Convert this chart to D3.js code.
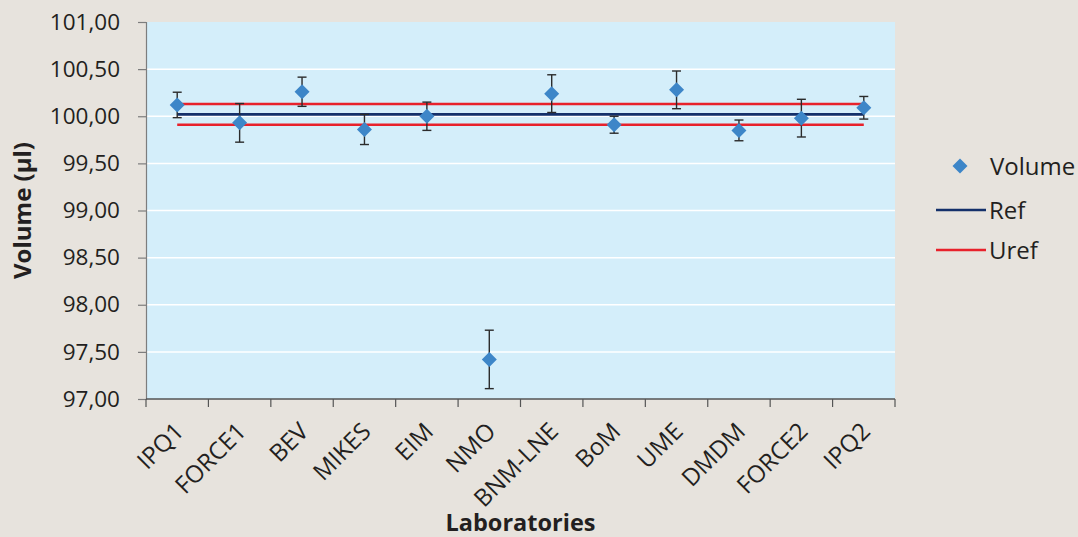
<!DOCTYPE html>
<html>
<head>
<meta charset="utf-8">
<script src="https://cdn.jsdelivr.net/npm/d3@7"></script>
<style>
  html, body { margin: 0; padding: 0; background: #e7e3dd; }
  svg { display: block; }
  text { font-family: "Open Sans", "Noto Sans", sans-serif; fill: #231f20; }
</style>
</head>
<body>
<svg id="chart" width="1078" height="537"></svg>
<script>
// Laboratories taking part in the comparison
const labs = ["IPQ1", "FORCE1", "BEV", "MIKES", "EIM", "NMO", "BNM-LNE", "BoM", "UME", "DMDM", "FORCE2", "IPQ2"];
// Measured volume (µl) for each laboratory
const volume = [100.12, 99.93, 100.26, 99.86, 100.00, 97.42, 100.24, 99.91, 100.28, 99.85, 99.98, 100.09];
// Expanded uncertainty of each measurement (µl)
const uncertainty = [0.135, 0.205, 0.155, 0.16, 0.15, 0.31, 0.20, 0.09, 0.20, 0.11, 0.20, 0.12];
// Reference value and its uncertainty band
const refValue = 100.02;
const refUpper = 100.13;
const refLower = 99.91;
// Y axis ticks
const yTicks = [97.0, 97.5, 98.0, 98.5, 99.0, 99.5, 100.0, 100.5, 101.0];
const yDomain = [97, 101];

const svg = d3.select("#chart");
const plot = { left: 146, right: 895, top: 22, bottom: 399 };

const x = d3.scaleBand().domain(labs).range([plot.left, plot.right]).padding(0);
const y = d3.scaleLinear().domain(yDomain).range([plot.bottom, plot.top]);
const cx = d => x(d) + x.bandwidth() / 2;

const locale = d3.formatLocale({ decimal: ",", thousands: ".", grouping: [3], currency: ["", ""] });
const fmt = locale.format(".2f");

// Plot background
svg.append("rect")
  .attr("x", plot.left).attr("y", plot.top)
  .attr("width", plot.right - plot.left).attr("height", plot.bottom - plot.top)
  .attr("fill", "#d4eefa");

// Horizontal gridlines
svg.append("g").selectAll("line").data(yTicks.slice(1, -1)).join("line")
  .attr("x1", plot.left).attr("x2", plot.right)
  .attr("y1", d => y(d)).attr("y2", d => y(d))
  .attr("stroke", "#ffffff").attr("stroke-width", 1.5);

// Y axis
const yAxis = svg.append("g")
  .attr("transform", `translate(${plot.left},0)`)
  .call(d3.axisLeft(y).tickValues(yTicks).tickFormat(fmt).tickSize(8).tickPadding(18));
yAxis.select(".domain").attr("stroke", "#7d7d7d").attr("stroke-width", 1.2);
yAxis.selectAll(".tick line").attr("stroke", "#7d7d7d").attr("stroke-width", 1.2);
yAxis.selectAll(".tick text")
  .attr("font-size", 22.5).attr("font-family", "Open Sans, sans-serif").attr("fill", "#231f20");

// X axis: ticks at band boundaries
const xAxisG = svg.append("g").attr("transform", `translate(0,${plot.bottom})`);
xAxisG.append("line")
  .attr("x1", plot.left).attr("x2", plot.right)
  .attr("stroke", "#555").attr("stroke-width", 1.3);
const bounds = labs.map(d => x(d)).concat([plot.right]);
xAxisG.selectAll("line.tk").data(bounds).join("line").attr("class", "tk")
  .attr("x1", d => d).attr("x2", d => d).attr("y1", 0).attr("y2", 8)
  .attr("stroke", "#555").attr("stroke-width", 1.2);
xAxisG.selectAll("text").data(labs).join("text")
  .attr("transform", d => `translate(${cx(d) - 4},${22}) rotate(-45)`)
  .attr("text-anchor", "end")
  .attr("dy", "0.7em")
  .attr("font-size", 24)
  .text(d => d);

// Reference and uncertainty lines across the laboratories
function hline(value, color) {
  svg.append("path")
    .datum(labs)
    .attr("d", d3.line().x(d => cx(d)).y(() => y(value)))
    .attr("fill", "none").attr("stroke", color).attr("stroke-width", 2.6);
}
hline(refUpper, "#e8212b");
hline(refLower, "#e8212b");
hline(refValue, "#14306a");

// Error bars
const eb = svg.append("g").selectAll("g").data(labs).join("g");
eb.append("line")
  .attr("x1", d => cx(d)).attr("x2", d => cx(d))
  .attr("y1", (d, i) => y(volume[i] + uncertainty[i]))
  .attr("y2", (d, i) => y(volume[i] - uncertainty[i]))
  .attr("stroke", "#2b2b2b").attr("stroke-width", 1.4);
[1, -1].forEach(s => {
  eb.append("line")
    .attr("x1", d => cx(d) - 4.5).attr("x2", d => cx(d) + 4.5)
    .attr("y1", (d, i) => y(volume[i] + s * uncertainty[i]))
    .attr("y2", (d, i) => y(volume[i] + s * uncertainty[i]))
    .attr("stroke", "#2b2b2b").attr("stroke-width", 1.4);
});

// Diamond markers
const diamond = "M0,-7.5L7.5,0L0,7.5L-7.5,0Z";
svg.append("g").selectAll("path").data(labs).join("path")
  .attr("transform", (d, i) => `translate(${cx(d)},${y(volume[i])})`)
  .attr("d", diamond)
  .attr("fill", "#3d86c8");

// Axis titles
svg.append("text")
  .attr("transform", `translate(31,${(plot.top + plot.bottom) / 2}) rotate(-90)`)
  .attr("text-anchor", "middle")
  .attr("font-size", 24).attr("font-weight", "bold")
  .text("Volume (μl)");
svg.append("text")
  .attr("x", (plot.left + plot.right) / 2).attr("y", 531)
  .attr("text-anchor", "middle")
  .attr("font-size", 23.5).attr("font-weight", "bold")
  .text("Laboratories");

// Legend
const legend = svg.append("g");
legend.append("path").attr("d", diamond).attr("transform", "translate(960,166)").attr("fill", "#3d86c8");
legend.append("text").attr("x", 990).attr("y", 175).attr("font-size", 24).text("Volume");
legend.append("line").attr("x1", 936).attr("x2", 986).attr("y1", 210).attr("y2", 210)
  .attr("stroke", "#14306a").attr("stroke-width", 2.6);
legend.append("text").attr("x", 989).attr("y", 219).attr("font-size", 24).text("Ref");
legend.append("line").attr("x1", 936).attr("x2", 986).attr("y1", 250).attr("y2", 250)
  .attr("stroke", "#e8212b").attr("stroke-width", 2.6);
legend.append("text").attr("x", 989).attr("y", 259).attr("font-size", 24).text("Uref");
</script>
</body>
</html>
